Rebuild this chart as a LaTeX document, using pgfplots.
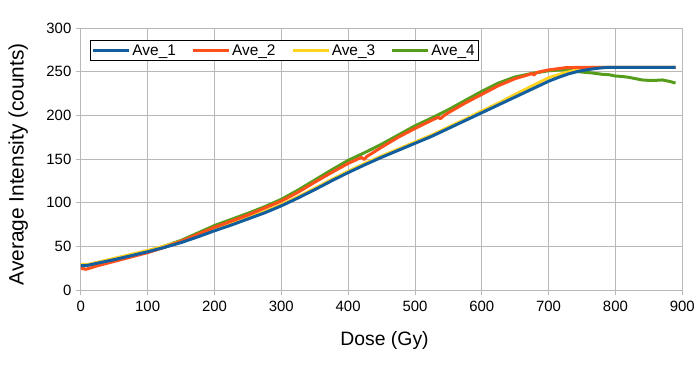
\documentclass[border=0pt]{standalone}
\usepackage{fontspec}
\setmainfont{Liberation Sans}
\usepackage{pgfplots}
\pgfplotsset{compat=1.18}
\definecolor{c1}{HTML}{125E9E}
\definecolor{c2}{HTML}{FF4F1A}
\definecolor{c3}{HTML}{FFD320}
\definecolor{c4}{HTML}{579D1C}
\definecolor{gridc}{HTML}{B8B8B8}
\begin{document}
\begin{tikzpicture}
\begin{axis}[
  name=ax,
  scale only axis,
  width=603bp, height=263bp,
  xmin=0, xmax=900, ymin=0, ymax=300,
  xtick distance=100, ytick distance=50,
  grid=major,
  major grid style={gridc, line width=0.8bp},
  axis line style={gridc, line width=0.8bp},
  tick style={gridc, line width=0.8bp},
  tick align=outside, major tick length=5bp,
  xtick pos=bottom, ytick pos=left,
  /pgf/number format/assume math mode=true,
  tick label style={font=\fontsize{15}{18}\selectfont},
  xticklabel style={yshift=-2bp},
  yticklabel style={xshift=-1bp},
  xlabel={Dose (Gy)},
  ylabel={Average Intensity (counts)},
  every axis x label/.style={at={(axis description cs:0.505,0)}, anchor=base, yshift=-55bp, font=\fontsize{19.5}{22}\selectfont},
  every axis y label/.style={at={(axis description cs:-0.104,0.48)}, rotate=90, anchor=center, font=\fontsize{21}{24}\selectfont},
  legend style={at={(rel axis cs:0.015,0.954)}, anchor=north west, draw=black, line width=0.8bp,
    font=\fontsize{15.5}{18}\selectfont, legend columns=4, inner sep=2bp,
    /tikz/every even column/.append style={column sep=14bp}},
  legend image code/.code={\draw[#1, line width=2.4bp] (0bp,0bp) -- (36bp,0bp);},
  every axis plot/.append style={line width=3bp, line join=round},
]
\addlegendimage{c1}\addlegendentry{Ave\_1}
\addlegendimage{c2}\addlegendentry{Ave\_2}
\addlegendimage{c3}\addlegendentry{Ave\_3}
\addlegendimage{c4}\addlegendentry{Ave\_4}

% Ave_4
\addplot[c4, forget plot] coordinates {(0,27)(25,31)(50,35)(75,39.5)(100,44.5)(125,50.5)(150,57)(175,65.5)(200,74)(225,81)(250,88)(275,95.5)(300,104)(325,114.5)(350,126)(375,137.5)(400,148.5)(425,157.5)(450,167)(475,177.5)(500,188)(525,197)(550,206.5)(575,217)(600,227.5)(625,237)(650,244)(675,248)(700,251)(720,252)(735,251)(750,249.5)(765,248.5)(780,247)(790,246.5)(800,245)(810,244.5)(820,243.5)(830,242)(840,240.5)(850,240)(860,240)(870,240.5)(880,239)(890,237)};
% Ave_3
\addplot[c3, forget plot] coordinates {(0,29.5)(10,29.5)(25,32)(50,36.5)(75,41)(100,45.5)(125,50.5)(150,56)(175,62.5)(200,69.5)(225,76)(250,83)(275,90)(300,98)(325,107)(350,116.5)(375,126.5)(400,136)(425,145)(450,153.5)(475,161.5)(500,169.5)(525,177.5)(550,186.5)(575,195.5)(600,205)(625,214)(650,224)(675,233.5)(700,243)(725,249)(750,253)(765,255)(890,255)};
% Ave_2
\addplot[c2, forget plot] coordinates {(0,25)(8,24)(25,28)(50,33)(75,38)(100,43)(125,49)(150,56)(175,64)(200,72)(225,79)(250,86)(275,94)(300,102)(325,112)(350,123.5)(375,134.5)(400,145)(420,152)(424,149.5)(428,153)(450,163.5)(475,175)(500,185)(520,192.5)(535,198)(538,196)(543,199.5)(550,203)(575,214)(600,224)(625,234)(650,242)(670,246.5)(675,248)(678,246)(682,249)(700,252)(725,254.5)(750,255)(890,255)};
% Ave_1
\addplot[c1, forget plot] coordinates {(0,28)(10,28.5)(25,31)(50,35)(75,39.5)(100,44)(125,49)(150,54.5)(175,61)(200,68)(225,74.5)(250,81.5)(275,88.5)(300,96.5)(325,105.5)(350,115)(375,125)(400,134.5)(425,143.5)(450,152)(475,160)(500,168)(525,176)(550,185)(575,194)(600,203)(625,212)(650,221)(675,230)(700,239)(715,243.5)(730,247.5)(745,250.5)(760,252.5)(775,254)(790,255)(800,255)(890,255)};
\end{axis}
\path ([shift={(-81bp,-81bp)}]ax.south west) rectangle ([shift={(14bp,28bp)}]ax.north east);
\end{tikzpicture}
\end{document}
